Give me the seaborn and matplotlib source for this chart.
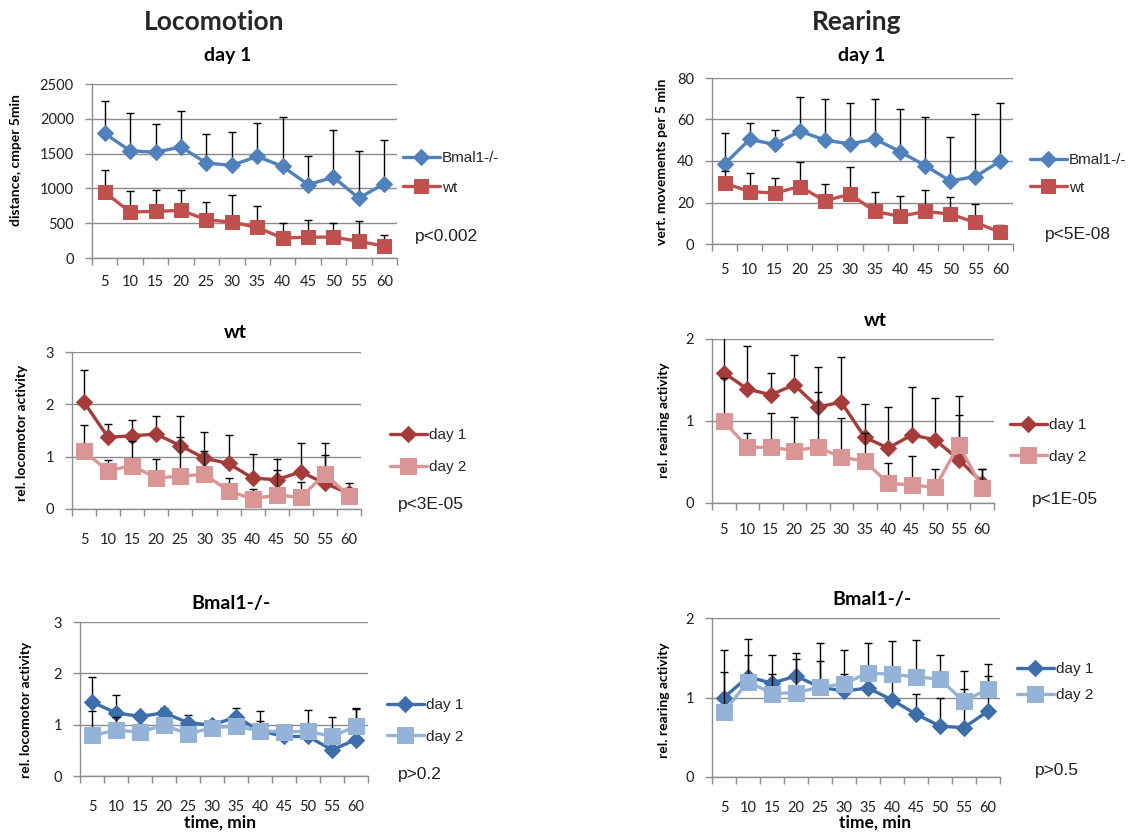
import numpy as np
import pandas as pd
import matplotlib
matplotlib.use("Agg")
import matplotlib.pyplot as plt
import seaborn as sns

# ---- data -------------------------------------------------------------
times = [5, 10, 15, 20, 25, 30, 35, 40, 45, 50, 55, 60]

# Locomotion, day 1 (distance, cm per 5 min)
loc_day1_bmal = [1790, 1540, 1520, 1595, 1365, 1330, 1460, 1315, 1055, 1160, 860, 1070]
loc_day1_bmal_err = [465, 537, 407, 522, 412, 474, 483, 704, 407, 675, 680, 622]
loc_day1_wt = [945, 660, 670, 685, 550, 515, 440, 285, 300, 300, 240, 170]
loc_day1_wt_err = [316, 297, 302, 287, 249, 387, 301, 221, 244, 206, 287, 167]

# Rearing, day 1 (vertical movements per 5 min)
rear_day1_bmal = [38.6, 50.4, 48.0, 54.4, 50.1, 48.2, 50.6, 44.5, 37.8, 30.4, 32.5, 40.0]
rear_day1_bmal_err = [15.0, 7.7, 6.9, 16.5, 19.7, 19.8, 19.2, 20.8, 23.5, 21.3, 30.2, 28.0]
rear_day1_wt = [29.3, 25.3, 24.5, 27.7, 20.8, 24.0, 15.7, 13.3, 15.7, 14.4, 10.4, 5.6]
rear_day1_wt_err = [6.0, 8.8, 7.2, 11.7, 8.2, 13.3, 9.3, 9.9, 10.1, 8.2, 9.0, 3.4]

# Relative locomotor activity, wt
loc_wt_d1 = [2.04, 1.37, 1.40, 1.43, 1.21, 0.97, 0.87, 0.59, 0.56, 0.71, 0.49, 0.30]
loc_wt_d1_err = [0.62, 0.26, 0.30, 0.35, 0.57, 0.50, 0.55, 0.46, 0.39, 0.56, 0.78, 0.19]
loc_wt_d2 = [1.10, 0.73, 0.83, 0.59, 0.63, 0.66, 0.35, 0.19, 0.27, 0.22, 0.67, 0.25]
loc_wt_d2_err = [0.50, 0.20, 0.46, 0.36, 0.74, 0.45, 0.24, 0.19, 0.48, 0.30, 0.36, 0.15]

# Relative rearing activity, wt
rear_wt_d1 = [1.59, 1.39, 1.32, 1.44, 1.17, 1.23, 0.80, 0.67, 0.83, 0.77, 0.53, 0.25]
rear_wt_d1_err = [0.45, 0.53, 0.26, 0.37, 0.49, 0.55, 0.41, 0.50, 0.58, 0.51, 0.77, 0.17]
rear_wt_d2 = [1.00, 0.68, 0.68, 0.64, 0.68, 0.56, 0.51, 0.24, 0.22, 0.19, 0.71, 0.18]
rear_wt_d2_err = [0.53, 0.17, 0.42, 0.41, 0.67, 0.48, 0.34, 0.25, 0.35, 0.23, 0.36, 0.23]

# Relative locomotor activity, Bmal1-/-
loc_bm_d1 = [1.44, 1.23, 1.16, 1.23, 1.04, 0.99, 1.15, 0.88, 0.77, 0.77, 0.51, 0.71]
loc_bm_d1_err = [0.48, 0.34, 0.07, 0.09, 0.15, 0.06, 0.18, 0.38, 0.10, 0.12, 0.64, 0.61]
loc_bm_d2 = [0.79, 0.89, 0.86, 0.99, 0.82, 0.94, 0.97, 0.88, 0.86, 0.87, 0.77, 0.97]
loc_bm_d2_err = [0.47, 0.26, 0.16, 0.10, 0.12, 0.08, 0.12, 0.20, 0.10, 0.41, 0.14, 0.33]

# Relative rearing activity, Bmal1-/-
rear_bm_d1 = [1.00, 1.26, 1.18, 1.27, 1.13, 1.08, 1.12, 0.97, 0.79, 0.64, 0.62, 0.83]
rear_bm_d1_err = [0.60, 0.48, 0.36, 0.29, 0.56, 0.22, 0.18, 0.25, 0.26, 0.35, 0.49, 0.44]
rear_bm_d2 = [0.82, 1.20, 1.05, 1.06, 1.13, 1.17, 1.31, 1.29, 1.26, 1.23, 0.95, 1.11]
rear_bm_d2_err = [0.50, 0.34, 0.25, 0.42, 0.33, 0.43, 0.38, 0.42, 0.46, 0.31, 0.38, 0.31]

# ---- style ------------------------------------------------------------
sns.set_style("white")
plt.rcParams["font.family"] = ["Lato", "DejaVu Sans"]

W, H = 1134, 834
fig = plt.figure(figsize=(W / 100, H / 100), dpi=100)
fig.patch.set_facecolor("white")

GRID = "#8c8c8c"
TXT = "#1f1f2a"
BLUE, RED = "#4f81bd", "#c0504d"
DRED, PINK = "#a63c3a", "#d99694"
DBLUE, LBLUE = "#3b6eab", "#95b3d7"
LEG_FONT = ["Liberation Sans", "DejaVu Sans"]


def px_rect(left, top, right, bottom):
    return [left / W, 1 - bottom / H, (right - left) / W, (bottom - top) / H]


def fx(x):
    return x / W


def fy(y):
    return 1 - y / H


def panel(rect, series, ylim, ystep, xpad_px, title, title_xy, ylabel, ylabel_xy,
          legend_xy, legend_gap, pval, pval_xy, xlabel=None, xlabel_xy=None):
    ax = fig.add_axes(px_rect(*rect))
    pos = np.arange(len(times))
    for name, vals, errs, color, marker, ms, z in series:
        df = pd.DataFrame({"pos": pos, "val": vals})
        sns.lineplot(data=df, x="pos", y="val", ax=ax, color=color, marker=marker,
                     markersize=ms, markeredgecolor=color, linewidth=2.4,
                     label=name, zorder=z)
        ax.errorbar(pos, vals, yerr=[np.zeros(len(vals)), errs], fmt="none",
                    ecolor="black", elinewidth=1.0, capsize=3.0, capthick=1.0,
                    zorder=z - 0.5)
    handles, labels = ax.get_legend_handles_labels()
    if ax.get_legend() is not None:
        ax.get_legend().remove()

    ax.set_xlim(-0.5, len(times) - 0.5)
    ax.set_ylim(*ylim)
    ax.set_yticks(np.arange(ylim[0], ylim[1] + ystep / 2, ystep))
    ax.set_xticks(pos)
    ax.set_xticklabels([str(t) for t in times])
    ax.set_xticks(np.arange(-0.5, len(times), 1.0), minor=True)
    ax.tick_params(axis="x", which="major", length=0, pad=(xpad_px - 10) * 0.72 + 2,
                   labelsize=10.5, colors=TXT)
    ax.tick_params(axis="x", which="minor", length=5, width=1, color=GRID,
                   direction="out", bottom=True)
    ax.tick_params(axis="y", which="major", length=5, width=1, color=GRID,
                   direction="out", left=True, pad=8, labelsize=10.5,
                   labelcolor=TXT)
    ax.yaxis.grid(True, color=GRID, linewidth=1)
    ax.xaxis.grid(False)
    ax.set_axisbelow(True)
    for s in ("top", "right"):
        ax.spines[s].set_visible(False)
    for s in ("left", "bottom"):
        ax.spines[s].set_color(GRID)
        ax.spines[s].set_linewidth(1)
    ax.set_xlabel("")
    ax.set_ylabel("")

    fig.text(fx(title_xy[0]), fy(title_xy[1]), title, ha="center", va="center",
             fontsize=14, fontweight="bold", color="black")
    fig.text(fx(ylabel_xy[0]), fy(ylabel_xy[1]), ylabel, ha="center", va="center",
             rotation=90, fontsize=10, fontweight="bold", color="black")
    fig.legend(handles, labels, loc="center left",
               bbox_to_anchor=(fx(legend_xy[0]), fy(legend_xy[1])),
               frameon=False, borderaxespad=0, borderpad=0, handlelength=2.4,
               handletextpad=0.15, labelspacing=legend_gap,
               prop={"family": LEG_FONT, "size": 11})
    fig.text(fx(pval_xy[0]), fy(pval_xy[1]), pval, ha="left", va="center",
             fontsize=12.5, family=LEG_FONT, color=TXT)
    if xlabel:
        fig.text(fx(xlabel_xy[0]), fy(xlabel_xy[1]), xlabel, ha="center",
                 va="center", fontsize=12.5, fontweight="bold", color="black")
    return ax


# Column headers
fig.text(fx(214), fy(22), "Locomotion", ha="center", va="center", fontsize=19,
         fontweight="bold")
fig.text(fx(857), fy(22), "Rearing", ha="center", va="center", fontsize=19,
         fontweight="bold")

panel((92, 84, 397, 258),
      [("Bmal1-/-", loc_day1_bmal, loc_day1_bmal_err, BLUE, "D", 8, 3),
       ("wt", loc_day1_wt, loc_day1_wt_err, RED, "s", 10, 4)],
      (0, 2500), 500, 24, "day 1", (228, 56),
      "distance, cmper 5min", (16, 160), (403, 173), 1.0,
      "p<0.002", (415, 237))

panel((712, 78, 1013, 244),
      [("Bmal1-/-", rear_day1_bmal, rear_day1_bmal_err, BLUE, "D", 8, 3),
       ("wt", rear_day1_wt, rear_day1_wt_err, RED, "s", 10, 4)],
      (0, 80), 20, 26, "day 1", (862, 55),
      "vert. movements per 5 min", (662, 162), (1030, 174), 0.86,
      "p<5E-08", (1045, 235))

panel((72, 352, 361, 509),
      [("day 1", loc_wt_d1, loc_wt_d1_err, DRED, "D", 8, 3),
       ("day 2", loc_wt_d2, loc_wt_d2_err, PINK, "s", 11, 4)],
      (0, 3), 1, 31, "wt", (235, 333),
      "rel. locomotor activity", (22, 433), (390, 451), 1.19,
      "p<3E-05", (398, 504))

panel((712, 339, 994, 503),
      [("day 1", rear_wt_d1, rear_wt_d1_err, DRED, "D", 8, 3),
       ("day 2", rear_wt_d2, rear_wt_d2_err, PINK, "s", 11, 4)],
      (0, 2), 1, 27, "wt", (875, 321),
      "rel. rearing activity", (664, 420), (1010, 441), 1.13,
      "p<1E-05", (1032, 499))

panel((80, 622, 368, 776),
      [("day 1", loc_bm_d1, loc_bm_d1_err, DBLUE, "D", 8, 3),
       ("day 2", loc_bm_d2, loc_bm_d2_err, LBLUE, "s", 11, 4)],
      (0, 3), 1, 31, "Bmal1-/-", (231, 603),
      "rel. locomotor activity", (26, 710), (387, 721), 1.13,
      "p>0.2", (398, 775), "time, min", (220, 823))

panel((712, 618, 1000, 777),
      [("day 1", rear_bm_d1, rear_bm_d1_err, DBLUE, "D", 8, 3),
       ("day 2", rear_bm_d2, rear_bm_d2_err, LBLUE, "s", 11, 4)],
      (0, 2), 1, 31, "Bmal1-/-", (872, 599),
      "rel. rearing activity", (664, 700), (1017, 682), 0.8,
      "p>0.5", (1035, 771), "time, min", (875, 823))

fig.savefig("out.png", dpi=100, facecolor="white")
